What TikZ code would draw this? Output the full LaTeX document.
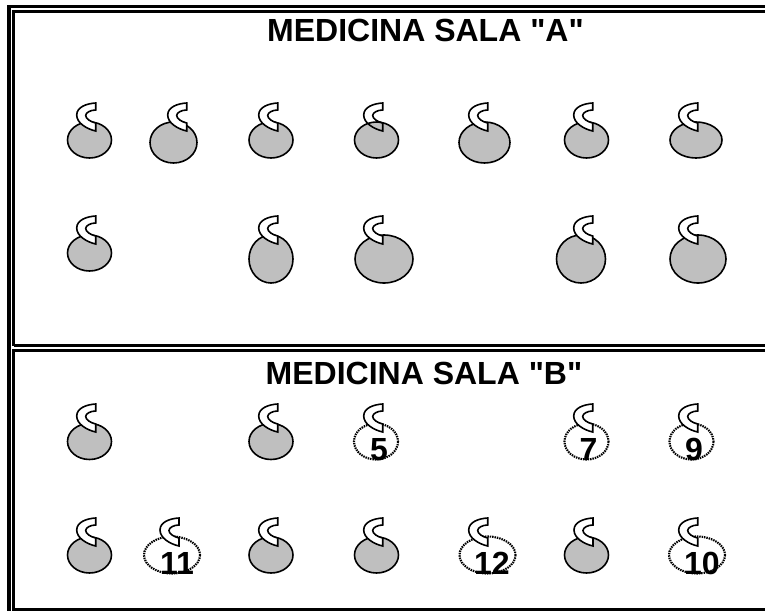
\documentclass[tikz,border=0pt]{standalone}
\usepackage{fontspec}
\setmainfont[Ligatures=TeXOff]{Liberation Sans}
\usepackage{xcolor}
\definecolor{bedgray}{gray}{0.75}

\tikzset{
    wall/.style={line width=2.5pt},
    bed/.style={draw, line width=1.2pt, fill=bedgray},
    freebed/.style={draw, line width=1.6pt, dash pattern=on 1.1pt off 0.7pt},
    title/.style={font=\bfseries\fontsize{24}{24}\selectfont, inner sep=0pt},
    number/.style={font=\bfseries\fontsize{24}{24}\selectfont, inner sep=0pt},
    hookline/.style={line width=1.2pt, fill=white},
    hook/.pic={
        \draw[hookline] (0,0) .. controls (-9,0.5) and (-19,4) .. (-19,12)
            .. controls (-19,20) and (-9,26) .. (0,28) -- (0,20)
            .. controls (-6,18.5) and (-10,15.5) .. (-10,12.5)
            .. controls (-10,9.5) and (-5,7) .. (0,7) -- cycle;
    }
}

\begin{document}
\begin{tikzpicture}[x=0.75pt, y=-0.75pt]
    \useasboundingbox (0,0) rectangle (765,611);

    % Walls
    \draw[wall] (9,611) -- (9,6.5) -- (765,6.5);
    \draw[wall] (13.5,345.5) -- (13.5,11.5) -- (765,11.5);
    \draw[wall] (13.5,345.5) -- (765,345.5);
    \draw[wall] (13.5,611) -- (13.5,350.5) -- (765,350.5);
    \draw[wall] (13.5,609.5) -- (765,609.5);

    % Titles
    \node[title] (salaA) at (425.5,30) {MEDICINA SALA "A"};
    \node[title] (salaB) at (424,373) {MEDICINA SALA "B"};

    % Sala A, first row
    \draw[bed] (89.5,140) ellipse (22 and 18);
    \draw[bed] (173.5,142.5) ellipse (23.5 and 20.5);
    \draw[bed] (271,140) ellipse (22 and 18);
    \draw[bed] (376.5,140) ellipse (22 and 18);
    \draw[bed] (484.5,142.5) ellipse (25.5 and 20.5);
    \draw[bed] (586.5,140) ellipse (22 and 18);
    \draw[bed] (696,140) ellipse (26 and 18);
    \pic at (95.7,103) {hook};
    \pic at (186.7,103) {hook};
    \pic at (277.7,103) {hook};
    \pic[hookline/.append style={fill=none}] at (382.7,103) {hook};
    \pic at (487.7,103) {hook};
    \pic at (592.7,103) {hook};
    \pic at (697.7,103) {hook};

    % Sala A, second row
    \draw[bed] (89.5,253) ellipse (22 and 18);
    \draw[bed] (271,259) ellipse (22 and 24);
    \draw[bed] (384,259) ellipse (29 and 24);
    \draw[bed] (581,259) ellipse (24.5 and 24);
    \draw[bed] (698,259) ellipse (28 and 24);
    \pic at (95.7,216) {hook};
    \pic at (277.7,216) {hook};
    \pic at (382.7,216) {hook};
    \pic at (592.7,216) {hook};
    \pic at (697.7,216) {hook};

    % Sala B, first row
    \draw[bed] (89.5,441.5) ellipse (22 and 18);
    \draw[bed] (271,441.5) ellipse (22 and 18);
    \draw[freebed] (376,441.5) ellipse (22 and 18);
    \draw[freebed] (586.5,441.5) ellipse (22 and 18);
    \draw[freebed] (691.5,441.5) ellipse (22 and 18);
    \pic at (95.7,404) {hook};
    \pic at (277.7,404) {hook};
    \pic at (382.7,404) {hook};
    \pic at (592.7,404) {hook};
    \pic at (697.7,404) {hook};
    \node[number] (five) at (379,449.5) {5};
    \node[number] (seven) at (588.5,449.5) {7};
    \node[number] (nine) at (694,449.5) {9};

    % Sala B, second row
    \draw[bed] (89.5,555) ellipse (22 and 18);
    \draw[freebed] (172,555) ellipse (28 and 18.5);
    \draw[bed] (271,555) ellipse (22 and 18);
    \draw[bed] (376.5,555) ellipse (22 and 18);
    \draw[freebed] (487.5,555) ellipse (28 and 18.5);
    \draw[bed] (586.5,555) ellipse (22 and 18);
    \draw[freebed] (697,555) ellipse (28 and 18.5);
    \pic at (95.7,518) {hook};
    \pic at (179,518) {hook};
    \pic at (277.7,518) {hook};
    \pic at (382.7,518) {hook};
    \pic at (487.7,518) {hook};
    \pic at (593,518) {hook};
    \pic at (697.7,518) {hook};
    \node[number] (eleven) at (177,563.5) {11};
    \node[number] (twelve) at (492,563.5) {12};
    \node[number] (ten) at (702,563.5) {10};
\end{tikzpicture}
\end{document}
